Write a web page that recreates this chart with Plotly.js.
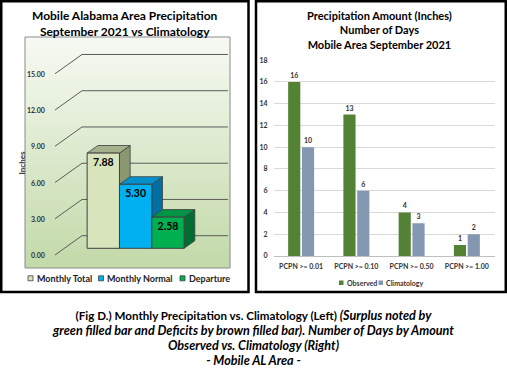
<!DOCTYPE html>
<html>
<head>
<meta charset="utf-8">
<script src="https://cdn.plot.ly/plotly-3.0.1.min.js"></script>
<style>html,body{margin:0;padding:0;background:#fff;}#chart{width:507px;height:369px;}</style>
</head>
<body>
<div id="chart"></div>
<script>
// ---- data ----
const leftCategories = ['Monthly Total', 'Monthly Normal', 'Departure'];
const leftValues = [7.88, 5.30, 2.58];
const leftTicks = [0, 3, 6, 9, 12, 15];
const leftTickLabels = ['0.00', '3.00', '6.00', '9.00', '12.00', '15.00'];
const rightCategories = ['PCPN >= 0.01', 'PCPN >= 0.10', 'PCPN >= 0.50', 'PCPN >= 1.00'];
const observed = [16, 13, 4, 1];
const climatology = [10, 6, 3, 2];
const rightTicks = [0, 2, 4, 6, 8, 10, 12, 14, 16, 18];

// ---- styles ----
const FONT = 'Lato, "Open Sans", sans-serif';
const W = 507, H = 369;
const px = v => v / W;
const py = v => 1 - v / H;
const frontCol = ['#d8e4bc', '#00b0f0', '#00b050'];
const topCol = ['#a4b28c', '#0590cc', '#009444'];
const sideCol = ['#8a9872', '#0070a4', '#006d31'];
const edge = '#404040';

// left 3D geometry (axis units)
const LX = [-2.422, 3.919], LY = [-1.631, 17.49];
const ddx = 0.331, ddy = 0.629;          // bar depth
const gFrontX = -1.494, gFrontY = -0.555; // grid label plane
const gBackX = -0.659, gBackY = 1.043;    // back wall
const gEndX = 3.857;

const traces = [];
// gradient background
traces.push({
  type: 'scatter', x: [LX[0], LX[1], LX[1], LX[0], LX[0]], y: [LY[0], LY[0], LY[1], LY[1], LY[0]],
  xaxis: 'x', yaxis: 'y', mode: 'lines', fill: 'toself', line: {width: 0},
  fillgradient: {type: 'vertical', colorscale: [[0, '#c2d9a8'], [1, '#f7faf3']]},
  hoverinfo: 'skip', showlegend: false
});
// gridlines (3D walls)
const gx = [], gy = [];
leftTicks.forEach(v => {
  gx.push(gFrontX, gBackX, gEndX, null);
  gy.push(v + gFrontY, v + gBackY, v + gBackY, null);
});
traces.push({type: 'scatter', x: gx, y: gy, xaxis: 'x', yaxis: 'y', mode: 'lines',
  line: {color: '#5b5b5b', width: 1}, hoverinfo: 'skip', showlegend: false});
// side & top faces
leftValues.forEach((v, i) => {
  const x0 = i - 0.5, x1 = i + 0.5;
  traces.push({type: 'scatter', xaxis: 'x', yaxis: 'y', mode: 'lines', fill: 'toself',
    x: [x1, x1 + ddx, x1 + ddx, x1, x1], y: [0, ddy, v + ddy, v, 0],
    fillcolor: sideCol[i], line: {color: edge, width: 0.8}, hoverinfo: 'skip', showlegend: false});
  traces.push({type: 'scatter', xaxis: 'x', yaxis: 'y', mode: 'lines', fill: 'toself',
    x: [x0, x1, x1 + ddx, x0 + ddx, x0], y: [v, v, v + ddy, v + ddy, v],
    fillcolor: topCol[i], line: {color: edge, width: 0.8}, hoverinfo: 'skip', showlegend: false});
});
// front faces
traces.push({
  type: 'bar', xaxis: 'x2', yaxis: 'y2', x: leftValues.map((v, i) => i), y: leftValues, width: 1,
  name: 'Left', marker: {color: frontCol, line: {color: edge, width: 1}},
  text: leftValues.map(v => v.toFixed(2)), textposition: 'inside', insidetextanchor: 'end',
  constraintext: 'none', textangle: 0,
  insidetextfont: {family: FONT, size: 10.5, color: '#000', weight: 'bold'},
  hoverinfo: 'skip', showlegend: false
});
// right chart
traces.push({type: 'bar', xaxis: 'x3', yaxis: 'y3', name: 'Observed', x: rightCategories, y: observed,
  marker: {color: '#548235'}, text: observed.map(String), textposition: 'outside', cliponaxis: false,
  textfont: {family: FONT, size: 7, color: '#333', weight: 'bold'}, showlegend: false});
traces.push({type: 'bar', xaxis: 'x3', yaxis: 'y3', name: 'Climatology', x: rightCategories, y: climatology,
  marker: {color: '#8497b0'}, text: climatology.map(String), textposition: 'outside', cliponaxis: false,
  textfont: {family: FONT, size: 7, color: '#333', weight: 'bold'}, showlegend: false});

const hidden = {visible: false, fixedrange: true};
const annotations = [];
// titles
annotations.push({xref: 'paper', yref: 'paper', x: px(125), y: py(23), xanchor: 'center', yanchor: 'middle',
  text: 'Mobile Alabama Area Precipitation<br>September 2021 vs Climatology', showarrow: false,
  font: {family: FONT, size: 12, color: '#000', weight: 'bold'}});
annotations.push({xref: 'paper', yref: 'paper', x: px(379), y: py(30.5), xanchor: 'center', yanchor: 'middle',
  text: 'Precipitation Amount (Inches)<br>Number of Days<br>Mobile Area September 2021', showarrow: false,
  font: {family: FONT, size: 11, color: '#000', weight: 'bold'}});
// left axis labels
leftTicks.forEach((v, k) => {
  annotations.push({xref: 'x', yref: 'y', x: -1.741, y: v + gFrontY, xanchor: 'right', yanchor: 'middle',
    text: leftTickLabels[k], showarrow: false, font: {family: FONT, size: 7, color: '#333', weight: 'bold'}});
});
annotations.push({xref: 'paper', yref: 'paper', x: px(21.5), y: py(163), textangle: -90, xanchor: 'center', yanchor: 'middle',
  text: 'Inches', showarrow: false, font: {family: FONT, size: 8, color: '#333', weight: 'bold'}});
// legends (left)
const legL = [[35, 0], [105, 1], [187, 2]];
legL.forEach(([xp, i]) => {
  annotations.push({xref: 'paper', yref: 'paper', x: px(xp), y: py(278.3), xanchor: 'left', yanchor: 'middle',
    text: leftCategories[i], showarrow: false, font: {family: FONT, size: 9, color: '#222', weight: 'bold'}});
});
// legends (right)
annotations.push({xref: 'paper', yref: 'paper', x: px(345), y: py(282.7), xanchor: 'left', yanchor: 'middle',
  text: 'Observed', showarrow: false, font: {family: FONT, size: 7, color: '#333', weight: 'bold'}});
annotations.push({xref: 'paper', yref: 'paper', x: px(384), y: py(282.7), xanchor: 'left', yanchor: 'middle',
  text: 'Climatology', showarrow: false, font: {family: FONT, size: 7, color: '#333', weight: 'bold'}});
// caption
const it = s => '<i><span style="font-size:12.6px">' + s + '</span></i>';
annotations.push({xref: 'paper', yref: 'paper', x: px(253), y: py(338), xanchor: 'center', yanchor: 'middle',
  text: '(Fig D.) Monthly Precipitation vs. Climatology (Left) ' + it('(Surplus noted by') + '<br>' +
        it('green filled bar and Deficits by brown filled bar). Number of Days by Amount') + '<br>' +
        it('Observed vs. Climatology (Right)') + '<br>' + it('- Mobile AL Area -'),
  showarrow: false, font: {family: FONT, size: 11.6, color: '#000', weight: 'bold'}});

const shapes = [
  // plot box
  {type: 'rect', xref: 'paper', yref: 'paper', x0: px(25), x1: px(230), y0: py(268), y1: py(37),
   line: {color: '#8a8a8a', width: 1}},
  // panel borders
  {type: 'rect', xref: 'paper', yref: 'paper', x0: px(1.25), x1: px(248.5), y0: py(292), y1: py(1.25),
   line: {color: '#000', width: 2.5}},
  {type: 'rect', xref: 'paper', yref: 'paper', x0: px(256), x1: px(505.75), y0: py(292), y1: py(1.25),
   line: {color: '#000', width: 2.5}},
  // legend squares left
  {type: 'rect', xref: 'paper', yref: 'paper', x0: px(28), x1: px(33), y0: py(280.8), y1: py(275.8),
   fillcolor: frontCol[0], line: {color: edge, width: 0.8}},
  {type: 'rect', xref: 'paper', yref: 'paper', x0: px(98.5), x1: px(103.5), y0: py(280.8), y1: py(275.8),
   fillcolor: frontCol[1], line: {color: edge, width: 0.8}},
  {type: 'rect', xref: 'paper', yref: 'paper', x0: px(180), x1: px(185), y0: py(280.8), y1: py(275.8),
   fillcolor: frontCol[2], line: {color: edge, width: 0.8}},
  // legend squares right
  {type: 'rect', xref: 'paper', yref: 'paper', x0: px(339), x1: px(343.5), y0: py(285), y1: py(280.5),
   fillcolor: '#548235', line: {width: 0}},
  {type: 'rect', xref: 'paper', yref: 'paper', x0: px(378.5), x1: px(383), y0: py(285), y1: py(280.5),
   fillcolor: '#8497b0', line: {width: 0}}
];

const layout = {
  width: W, height: H, margin: {l: 0, r: 0, t: 0, b: 0}, paper_bgcolor: '#fff', plot_bgcolor: 'rgba(0,0,0,0)',
  showlegend: false, barmode: 'group', bargap: 0.5, bargroupgap: 0.12,
  xaxis: Object.assign({domain: [px(25), px(230)], range: LX, anchor: 'y'}, hidden),
  yaxis: Object.assign({domain: [py(268), py(37)], range: LY, anchor: 'x'}, hidden),
  xaxis2: Object.assign({overlaying: 'x', range: LX, anchor: 'y2'}, hidden),
  yaxis2: Object.assign({overlaying: 'y', range: LY, anchor: 'x2'}, hidden),
  xaxis3: {domain: [px(273.5), px(494.5)], anchor: 'y3', type: 'category', range: [-0.5, 3.5],
    showgrid: false, showline: false, ticks: '', ticklabelstandoff: 5, fixedrange: true,
    tickfont: {family: FONT, size: 7, color: '#333', weight: 'bold'}},
  yaxis3: {domain: [py(256), py(60)], anchor: 'x3', range: [0, 18.02], tickvals: rightTicks,
    showgrid: true, gridcolor: '#d9d9d9', gridwidth: 1, zeroline: true, zerolinecolor: '#bfbfbf', zerolinewidth: 1,
    showline: false, ticks: '', ticklabelstandoff: 5, fixedrange: true,
    tickfont: {family: FONT, size: 7, color: '#333', weight: 'bold'}},
  annotations: annotations, shapes: shapes
};

Plotly.newPlot('chart', traces, layout, {staticPlot: true, displayModeBar: false});
</script>
</body>
</html>
